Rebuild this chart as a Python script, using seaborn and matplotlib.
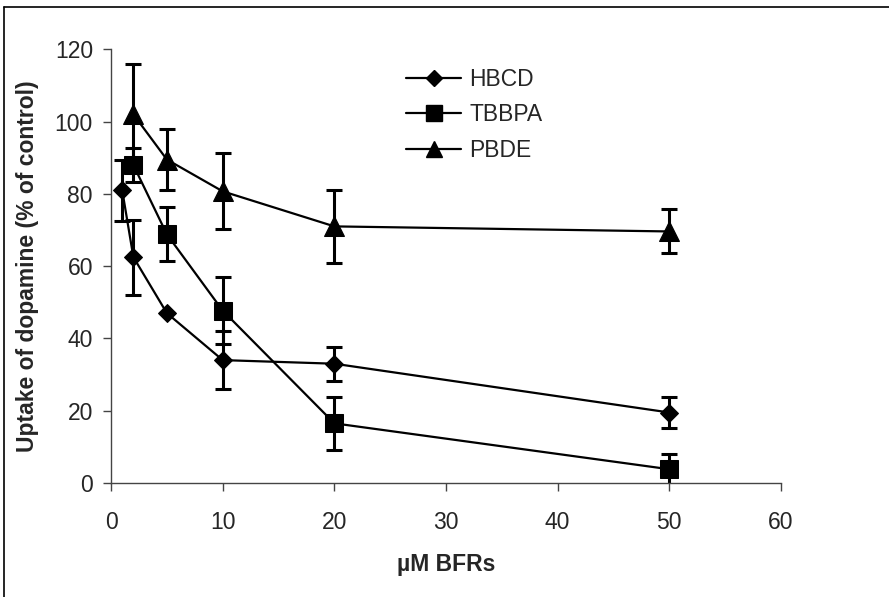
import pandas as pd
import seaborn as sns
from matplotlib import pyplot as plt
from matplotlib.lines import Line2D

# readings from the figure
conc_hbcd = [1, 2, 5, 10, 20, 50]
hbcd = [81, 62.5, 47, 34, 33, 19.5]
hbcd_err = [8.5, 10.4, 0, 8, 4.7, 4.2]

conc_tbbpa = [2, 5, 10, 20, 50]
tbbpa = [88, 68.8, 47.7, 16.5, 3.8]
tbbpa_err = [4.6, 7.5, 9.2, 7.3, 4.3]

conc_pbde = [2, 5, 10, 20, 50]
pbde = [102, 89.5, 80.7, 71, 69.6]
pbde_err = [13.8, 8.5, 10.5, 10, 6.1]

names = ["HBCD", "TBBPA", "PBDE"]
markers = {"HBCD": "D", "TBBPA": "s", "PBDE": "^"}
msizes = {"HBCD": 9, "TBBPA": 13.5, "PBDE": 14}

rows = []
for name, xs, ys, es in zip(names, [conc_hbcd, conc_tbbpa, conc_pbde],
                            [hbcd, tbbpa, pbde], [hbcd_err, tbbpa_err, pbde_err]):
    for x, y, e in zip(xs, ys, es):
        rows.append({"conc": x, "uptake": y, "err": e, "BFR": name})
df = pd.DataFrame(rows)

sns.set_style("ticks")
plt.rcParams["font.family"] = ["Liberation Sans", "DejaVu Sans"]
FS = 16.5

fig = plt.figure(figsize=(8.89, 5.97), dpi=100)
ax = fig.add_axes([0.1249, 0.191, 0.7536, 0.7264])

for name in names:
    sub = df[df.BFR == name]
    ax.errorbar(sub.conc, sub.uptake, yerr=sub.err, fmt="none", ecolor="black",
                elinewidth=2.2, capsize=6, capthick=2.2, zorder=2)
    sns.lineplot(data=sub, x="conc", y="uptake", color="black", marker=markers[name],
                 markersize=msizes[name], markeredgecolor="black", linewidth=1.6,
                 ax=ax, zorder=3)

handles = [Line2D([], [], color="black", lw=1.6, marker=markers[n],
                  markersize=msizes[n] * 0.85) for n in names]
ax.legend(handles, names, loc="upper left", bbox_to_anchor=(0.41, 1.005),
          frameon=False, fontsize=FS, handlelength=2.4, labelspacing=0.55,
          handletextpad=0.35)

ax.set_xlim(0, 60)
ax.set_ylim(0, 120)
ax.set_xticks(range(0, 61, 10))
ax.set_yticks(range(0, 121, 20))
ax.tick_params(axis="both", labelsize=FS, length=6, width=1, color="#444444")
ax.tick_params(axis="x", pad=14)
ax.tick_params(axis="y", pad=7)
for s in ["top", "right"]:
    ax.spines[s].set_visible(False)
for s in ["left", "bottom"]:
    ax.spines[s].set_color("#444444")
    ax.spines[s].set_linewidth(1)

ax.set_xlabel("µM BFRs", fontsize=FS, fontweight="bold", labelpad=14)
ax.set_ylabel("Uptake of dopamine (% of control)", fontsize=FS, fontweight="bold", labelpad=11)

# outer frame (left and top edges)
fig.add_artist(Line2D([4 / 889, 4 / 889], [0, 1 - 7 / 597], color="black", lw=1.2,
                      transform=fig.transFigure))
fig.add_artist(Line2D([4 / 889, 1], [1 - 7 / 597, 1 - 7 / 597], color="black", lw=1.2,
                      transform=fig.transFigure))

fig.savefig("out.png", dpi=100)
